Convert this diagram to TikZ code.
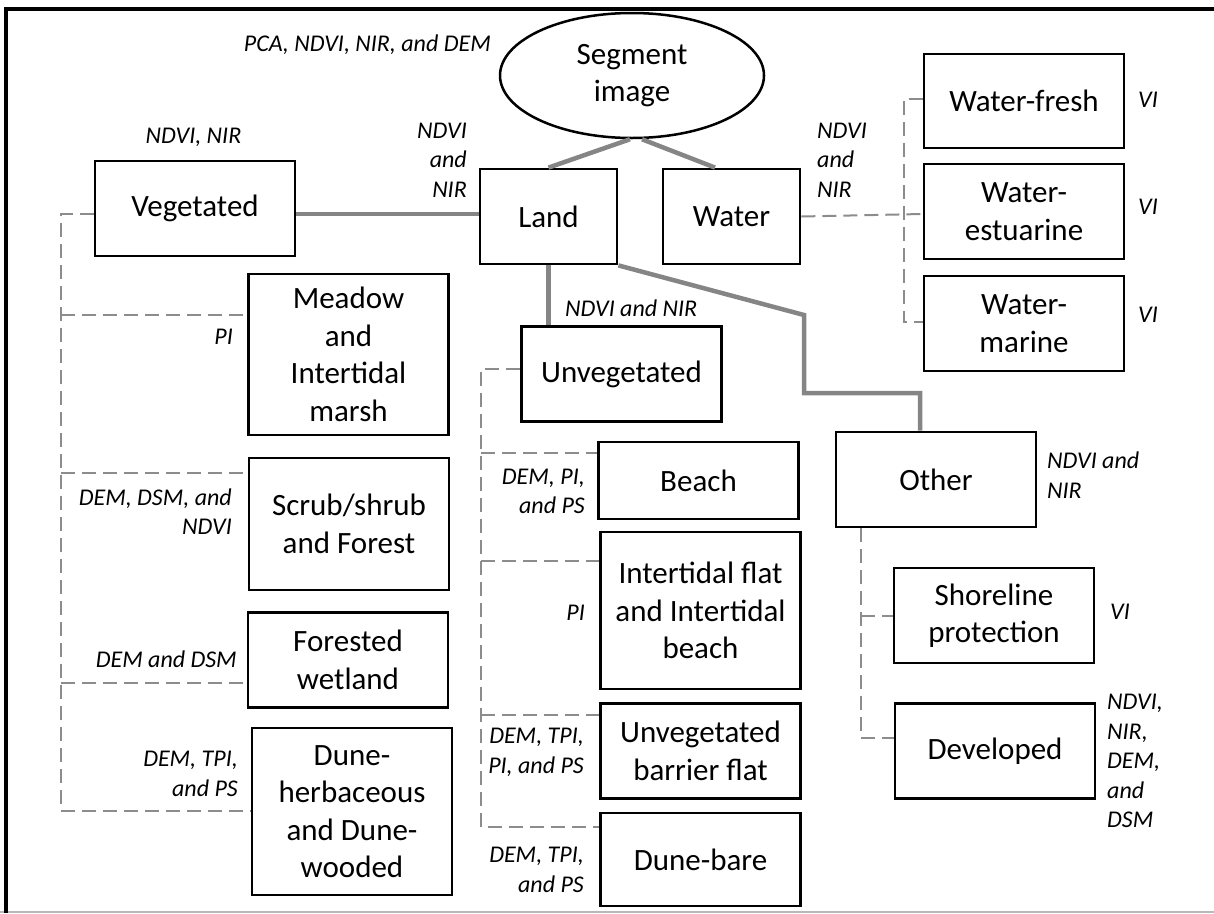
\documentclass[tikz,border=0pt]{standalone}
\usepackage{fontspec}
\setmainfont{Carlito}
\usetikzlibrary{shapes.geometric}

\newcommand\boxfont{\fontsize{31}{37.5}\selectfont}
\newcommand\cuefont{\fontsize{24}{29.5}\selectfont\itshape}

\begin{document}
\begin{tikzpicture}[x=1pt,y=-1pt,
  box/.style={draw,line width=2.8pt,align=center,font=\boxfont,inner sep=0pt,minimum width=200pt,minimum height=95pt},
  cue/.style={font=\cuefont,inner sep=0pt},
  mainline/.style={draw=black!48,line width=4.5pt},
  subline/.style={draw=black!45,line width=2pt,dash pattern=on 14pt off 7pt}]

\useasboundingbox (0,0) rectangle (1214,913);
\draw[black!28,line width=1.2pt] (0,912) -- (1214,912);
\draw[line width=4.5pt] (6,913) -- (6,9) -- (1214,9);

\node[ellipse,draw,line width=2.5pt,minimum width=264pt,minimum height=125pt,inner sep=0pt,font=\boxfont,align=center] (seg) at (632,75.5) {Segment\\image};

\node[box] (veg) at (195,208.5) {Vegetated};
\node[box,minimum width=137pt] (land) at (548.5,216.5) {Land};
\node[box,minimum width=137pt] (water) at (731.5,216.5) {Water};
\node[box,minimum height=94pt] (wfresh) at (1024,101) {Water-fresh};
\node[box] (westu) at (1024,211.5) {Water-\\estuarine};
\node[box] (wmar) at (1024,323.5) {Water-\\marine};

\node[box,minimum height=161pt] (meadow) at (348.5,354.5) {Meadow\\and\\Intertidal\\marsh};
\node[box,minimum height=132pt] (scrub) at (349,524) {Scrub/shrub\\and Forest};
\node[box] (forwet) at (348,660) {Forested\\wetland};
\node[box,minimum height=167pt] (duneherb) at (352,811.5) {Dune-\\herbaceous\\and Dune-\\wooded};

\node[box] (unveg) at (621.5,374) {Unvegetated};
\node[box,minimum height=77pt] (beach) at (698.5,480.5) {Beach};
\node[box,minimum height=157pt] (itflat) at (700.5,610.5) {Intertidal flat\\and Intertidal\\beach};
\node[box] (barrier) at (700.5,751) {Unvegetated\\barrier flat};
\node[box,minimum height=93pt] (dunebare) at (700.5,859.5) {Dune-bare};

\node[box] (other) at (936,479.5) {Other};
\node[box] (shore) at (994,615.5) {Shoreline\\protection};
\node[box] (devel) at (995,751) {Developed};

\node[cue,anchor=east] (tseg) at (491,45) {PCA, NDVI, NIR, and DEM};
\node[cue] (tveg) at (193.5,137) {NDVI, NIR};
\node[cue,anchor=east,align=right] (tland) at (467,160) {NDVI\\and\\NIR};
\node[cue,anchor=west,align=left] (twater) at (817,160) {NDVI\\and\\NIR};
\node[cue,anchor=west] (tfresh) at (1138,100) {VI};
\node[cue,anchor=west] (testu) at (1138,207) {VI};
\node[cue,anchor=west] (tmar) at (1138,315) {VI};
\node[cue,anchor=east] (tmeadow) at (233,337) {PI};
\node[cue,anchor=east,align=right] (tscrub) at (232,511.5) {DEM, DSM, and\\NDVI};
\node[cue,anchor=east] (tforwet) at (237,659) {DEM and DSM};
\node[cue,anchor=east,align=right] (tduneherb) at (238,774) {DEM, TPI,\\and PS};
\node[cue,anchor=west] (tunveg) at (565,308) {NDVI and NIR};
\node[cue,anchor=east,align=right] (tbeach) at (585,491.5) {DEM, PI,\\and PS};
\node[cue,anchor=east] (titflat) at (585,613) {PI};
\node[cue,anchor=east,align=right] (tbarrier) at (584,752.5) {DEM, TPI,\\PI, and PS};
\node[cue,anchor=east,align=right] (tdunebare) at (584,870) {DEM, TPI,\\and PS};
\node[cue,anchor=west,align=left] (tother) at (1047,475) {NDVI and\\NIR};
\node[cue,anchor=west] (tshore) at (1110,612) {VI};
\node[cue,anchor=west,align=left] (tdevel) at (1107,761) {NDVI,\\NIR,\\DEM,\\and\\DSM};

\coordinate (kneeA) at (804,315);
\coordinate (kneeB) at (804,393);
\draw[mainline] ([xshift=-2pt]seg.south) -- (land.north);
\draw[mainline] ([xshift=10pt]seg.south) -- ([xshift=-16.5pt]water.north);
\draw[mainline] ([yshift=-5.5pt]veg.east) -- ([yshift=-5.5pt]veg.east -| land.west);
\draw[mainline] (land.south) -- (land.south |- unveg.north);
\draw[mainline] (land.south east) -- (kneeA) -- (kneeB) -| ([xshift=-16pt]other.north);

\coordinate (vtop) at (61,214);
\coordinate (vbot) at (61,811);
\draw[subline] ([yshift=-5.5pt]veg.west) -- (vtop) -- (vbot) -- (vbot -| duneherb.west);
\foreach \n/\y in {meadow/315,scrub/473,forwet/683}
  \draw[subline] (61,\y) -- (\n.west |- 0,\y);

\coordinate (utop) at (481,369);
\coordinate (ubot) at (481,827);
\draw[subline] ([yshift=5pt]unveg.west) -- (utop) -- (ubot) -- (ubot -| dunebare.west);
\foreach \n/\y in {beach/453,itflat/561,barrier/715}
  \draw[subline] (481,\y) -- (\n.west |- 0,\y);

\coordinate (wbot) at (904,322);
\draw[subline] (water.east) -- ([yshift=-2.5pt]westu.west);
\draw[subline] ([yshift=2pt]wfresh.west) -| (wbot) -- (wbot -| wmar.west);

\coordinate (obot) at (861,738);
\draw[subline] (other.south -| obot) -- (obot) -- (obot -| devel.west);
\draw[subline] (obot |- shore.west) -- (shore.west);

\end{tikzpicture}
\end{document}
